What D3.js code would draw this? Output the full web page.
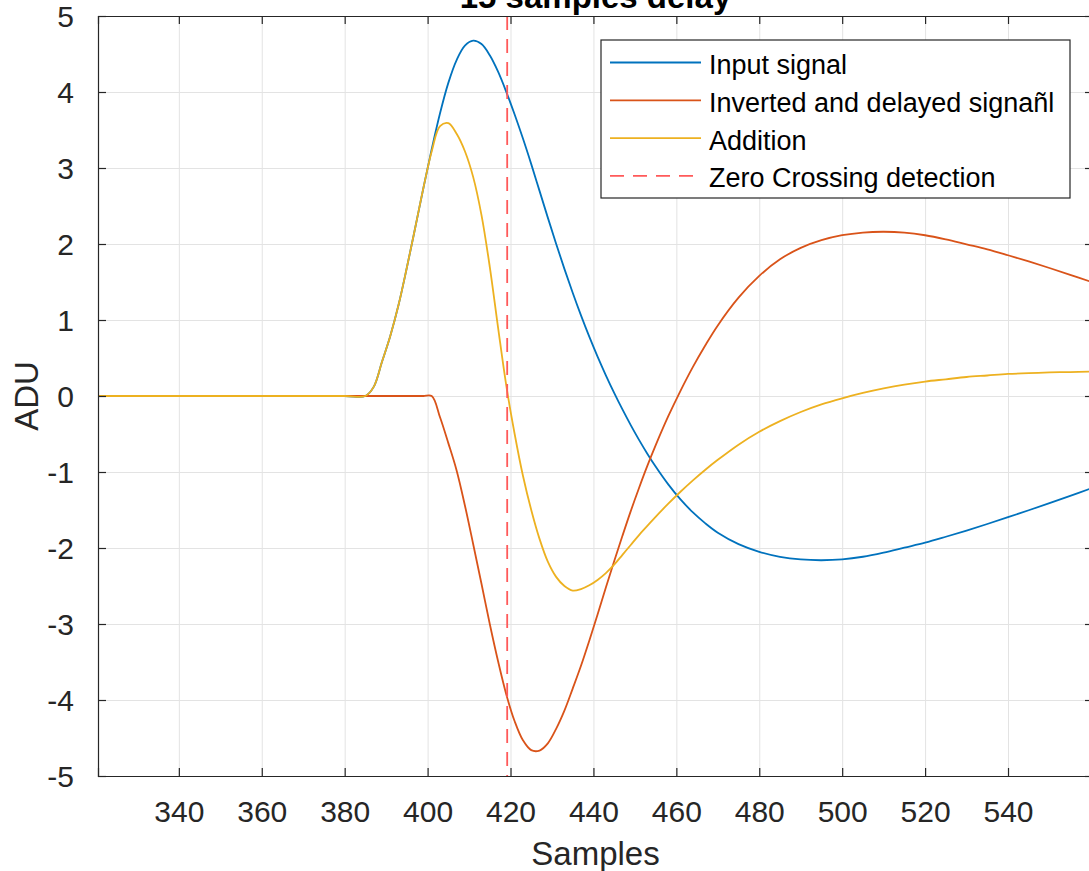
<!DOCTYPE html>
<html>
<head>
<meta charset="utf-8">
<script src="https://cdn.jsdelivr.net/npm/d3@7"></script>
<style>
  body { margin: 0; background: #fff; }
  svg { display: block; font-family: "Liberation Sans", Arial, Helvetica, sans-serif; }
</style>
</head>
<body>
<svg id="chart" width="1089" height="871"></svg>
<script>

/*****************
***** DATA *****
*****************/

const samples = [320, 340, 360, 380, 385, 387, 389, 391, 393, 395, 397, 399, 401, 403, 405, 407, 409, 411, 413, 415,
    417, 419, 421, 423, 425, 427, 429, 431, 433, 435, 437, 439, 441, 443, 445, 447, 449, 451, 453, 455,
    458, 461, 464, 467, 470, 475, 480, 485, 490, 495, 500, 505, 510, 515, 520, 525, 530, 535, 540, 545,
    550, 555, 560];

const inputSignal = [0, 0, 0, 0, 0, 0.12, 0.45, 0.79, 1.2, 1.69, 2.21, 2.74, 3.25, 3.72, 4.12, 4.42, 4.61, 4.675, 4.631, 4.483,
    4.267, 3.999, 3.703, 3.387, 3.051, 2.699, 2.347, 2.003, 1.673, 1.359, 1.061, 0.781, 0.519, 0.273, 0.041, -0.177, -0.383, -0.577, -0.759, -0.929,
    -1.16, -1.361, -1.532, -1.676, -1.799, -1.949, -2.05, -2.116, -2.151, -2.161, -2.15, -2.115, -2.06, -1.995, -1.93, -1.852, -1.77, -1.684, -1.595, -1.503,
    -1.409, -1.313, -1.216];

const invertedDelayed = [0, 0, 0, 0, 0, 0, 0, 0, 0, 0, 0, 0, 0, -0.28, -0.62, -0.98, -1.44, -1.95, -2.47, -3.0,
    -3.49, -3.93, -4.28, -4.53, -4.66, -4.665, -4.57, -4.38, -4.14, -3.85, -3.55, -3.22, -2.875, -2.52, -2.175, -1.84, -1.515, -1.21, -0.92, -0.65,
    -0.273, 0.068, 0.383, 0.668, 0.929, 1.294, 1.58, 1.799, 1.949, 2.05, 2.116, 2.151, 2.161, 2.15, 2.115, 2.06, 1.995, 1.93, 1.852, 1.77,
    1.684, 1.595, 1.503];

const addition = [0, 0, 0, 0, 0, 0.12, 0.45, 0.79, 1.2, 1.69, 2.21, 2.74, 3.22, 3.55, 3.59, 3.45, 3.22, 2.88, 2.38, 1.7,
    0.9, 0.13, -0.5, -1.05, -1.5, -1.88, -2.18, -2.38, -2.5, -2.56, -2.54, -2.49, -2.42, -2.33, -2.22, -2.09, -1.96, -1.83, -1.71, -1.59,
    -1.42, -1.26, -1.11, -0.97, -0.84, -0.64, -0.47, -0.33, -0.21, -0.11, -0.03, 0.04, 0.1, 0.15, 0.19, 0.22, 0.25, 0.27, 0.29, 0.3,
    0.31, 0.315, 0.32];

const zeroCrossing = 419.2;

const xTicks = [340, 360, 380, 400, 420, 440, 460, 480, 500, 520, 540];
const yTicks = [-5, -4, -3, -2, -1, 0, 1, 2, 3, 4, 5];

const seriesNames = ["Input signal", "Inverted and delayed signañl", "Addition", "Zero Crossing detection"];

/**********************
***** BASIC SETUP *****
**********************/

const AXIS_COLOR = "#262626";
const GRID_COLOR = "#e3e3e3";
const BLUE = "#0072BD";
const ORANGE = "#D95319";
const YELLOW = "#EDB120";
const RED = "#ff5a5a";
const TICK_LEN = 8;

const margin = {top: 16, left: 98};
const plotWidth = 995;
const plotHeight = 760;

const svg = d3.select("#chart");

const x = d3.scaleLinear().domain([320.5, 560.5]).range([0, plotWidth]);
const y = d3.scaleLinear().domain([-5, 5]).range([plotHeight, 0]);

const plot = svg.append("g")
    .attr("transform", `translate(${margin.left}, ${margin.top})`);

svg.append("defs").append("clipPath")
    .attr("id", "clip")
    .append("rect")
    .attr("width", plotWidth)
    .attr("height", plotHeight);

/*****************
***** GRID *****
*****************/

plot.append("g")
    .attr("class", "grid")
    .call(d3.axisBottom(x).tickValues(xTicks).tickSize(plotHeight).tickFormat(""))
    .call(g => g.select(".domain").remove())
    .selectAll("line")
    .attr("stroke", GRID_COLOR);

plot.append("g")
    .attr("class", "grid")
    .call(d3.axisLeft(y).tickValues(yTicks.slice(1, -1)).tickSize(-plotWidth).tickFormat(""))
    .call(g => g.select(".domain").remove())
    .selectAll("line")
    .attr("stroke", GRID_COLOR);

/******************
***** SIGNALS *****
******************/

const line = d3.line()
    .x(d => x(d[0]))
    .y(d => y(d[1]))
    .curve(d3.curveCatmullRom.alpha(0.5));

const series = [
    {values: inputSignal, color: BLUE},
    {values: invertedDelayed, color: ORANGE},
    {values: addition, color: YELLOW}
];

const lines = plot.append("g").attr("clip-path", "url(#clip)");

lines.selectAll(".signal")
    .data(series)
    .enter()
    .append("path")
    .attr("class", "signal")
    .attr("fill", "none")
    .attr("stroke", d => d.color)
    .attr("stroke-width", 1.8)
    .attr("d", d => line(samples.map((s, i) => [s, d.values[i]])));

lines.append("line")
    .attr("x1", x(zeroCrossing))
    .attr("x2", x(zeroCrossing))
    .attr("y1", 0)
    .attr("y2", plotHeight)
    .attr("stroke", RED)
    .attr("stroke-width", 1.8)
    .attr("stroke-dasharray", "14,9");

/***************
***** AXES *****
***************/

const fmt = d => String(d);

const xAxis = plot.append("g")
    .attr("transform", `translate(0, ${plotHeight})`)
    .call(d3.axisBottom(x).tickValues(xTicks).tickSize(-TICK_LEN).tickFormat(fmt));

const xAxisTop = plot.append("g")
    .call(d3.axisTop(x).tickValues(xTicks).tickSize(-TICK_LEN).tickFormat(""));

const yAxis = plot.append("g")
    .call(d3.axisLeft(y).tickValues(yTicks).tickSize(-TICK_LEN).tickPadding(TICK_LEN + 16).tickFormat(fmt));

const yAxisRight = plot.append("g")
    .attr("transform", `translate(${plotWidth}, 0)`)
    .call(d3.axisRight(y).tickValues(yTicks).tickSize(-TICK_LEN).tickFormat(""));

[xAxis, xAxisTop, yAxis, yAxisRight].forEach(function(a) {
    a.select(".domain").attr("stroke", AXIS_COLOR).attr("stroke-width", 1.2);
    a.selectAll(".tick line").attr("stroke", AXIS_COLOR).attr("stroke-width", 1.2);
    a.selectAll("text")
        .attr("fill", AXIS_COLOR)
        .style("font-size", "30px")
        .style("font-family", "'Liberation Sans', Arial, sans-serif");
});

xAxis.selectAll("text").attr("dy", null).attr("y", 45.5);
yAxis.selectAll("text").attr("dy", "0.36em");

/*************************
***** TITLE, LABELS *****
*************************/

svg.append("text")
    .attr("x", margin.left + plotWidth / 2)
    .attr("y", 8)
    .attr("text-anchor", "middle")
    .attr("fill", "#000")
    .style("font-size", "33px")
    .style("font-weight", "bold")
    .text("15 samples delay");

svg.append("text")
    .attr("x", margin.left + plotWidth / 2)
    .attr("y", 865)
    .attr("text-anchor", "middle")
    .attr("fill", AXIS_COLOR)
    .style("font-size", "33px")
    .text("Samples");

svg.append("text")
    .attr("transform", `translate(38, ${margin.top + plotHeight / 2}) rotate(-90)`)
    .attr("text-anchor", "middle")
    .attr("fill", AXIS_COLOR)
    .style("font-size", "33px")
    .text("ADU");

/*****************
***** LEGEND *****
*****************/

const legend = svg.append("g")
    .attr("transform", "translate(601, 40)");

legend.append("rect")
    .attr("width", 469)
    .attr("height", 158)
    .attr("fill", "#fff")
    .attr("stroke", AXIS_COLOR)
    .attr("stroke-width", 1.2);

const legendColors = [BLUE, ORANGE, YELLOW, RED];

const rows = legend.selectAll(".legendRow")
    .data(seriesNames)
    .enter()
    .append("g")
    .attr("class", "legendRow")
    .attr("transform", (d, i) => `translate(0, ${22.5 + i * 37.8})`);

rows.append("line")
    .attr("x1", 9)
    .attr("x2", 100)
    .attr("stroke", (d, i) => legendColors[i])
    .attr("stroke-width", 1.8)
    .attr("stroke-dasharray", (d, i) => i === 3 ? "14,9" : null);

rows.append("text")
    .attr("x", 108)
    .attr("y", 11.5)
    .attr("fill", "#000")
    .style("font-size", "27px")
    .text(d => d);

</script>
</body>
</html>
